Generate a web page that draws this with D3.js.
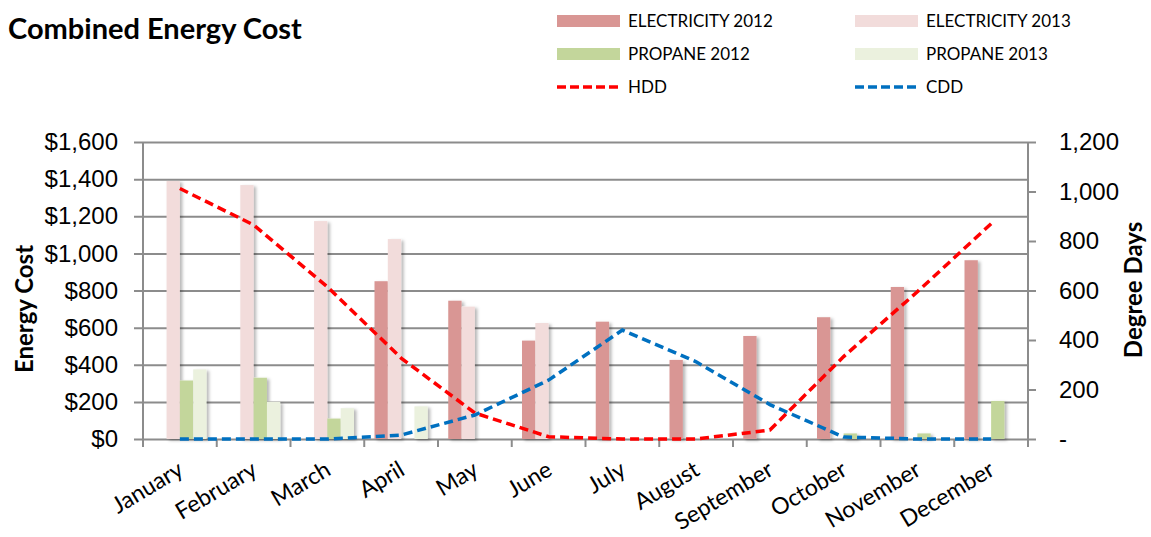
<!DOCTYPE html>
<html>
<head>
<meta charset="utf-8">
<script src="https://cdn.jsdelivr.net/npm/d3@7"></script>
<style>
  html, body { margin: 0; padding: 0; background: #fff; }
  svg { display: block; font-family: Lato, "Open Sans", sans-serif; }
</style>
</head>
<body>
<svg id="chart" width="1151" height="537"></svg>
<script>
// Monthly data
const months = ["January", "February", "March", "April", "May", "June",
  "July", "August", "September", "October", "November", "December"];
const electricity2012 = [null, null, null, 850, 745, 530, 632, 426, 555, 656, 819, 963];
const electricity2013 = [1390, 1368, 1174, 1077, 713, 625, null, null, null, null, null, null];
const propane2012 = [315, 330, 110, null, null, null, null, null, null, 30, 30, 205];
const propane2013 = [375, 200, 166, 176, null, null, null, null, null, null, null, null];
const hdd = [1012, 865, 615, 327, 105, 9, 0, 0, 36, 333, 595, 870];
const cdd = [0, 0, 0, 16, 97, 238, 440, 312, 139, 8, 0, 0];
const costTicks = [0, 200, 400, 600, 800, 1000, 1200, 1400, 1600];
const degreeTicks = [0, 200, 400, 600, 800, 1000, 1200];

const barSeries = [
  { key: "ELECTRICITY 2012", values: electricity2012, color: "#d99694" },
  { key: "ELECTRICITY 2013", values: electricity2013, color: "#f2dcdb" },
  { key: "PROPANE 2012", values: propane2012, color: "#c3d69b" },
  { key: "PROPANE 2013", values: propane2013, color: "#ebf1de" }
];
const lineSeries = [
  { key: "HDD", values: hdd, color: "#ff0000" },
  { key: "CDD", values: cdd, color: "#0070c0" }
];

const svg = d3.select("#chart");
const plotLeft = 143, plotRight = 1028, plotTop = 142, plotBottom = 439;
const gridColor = "#8c8c8c";

const x = d3.scaleBand().domain(months).range([plotLeft, plotRight]).paddingInner(0).paddingOuter(0);
const x1 = d3.scaleBand().domain(barSeries.map(s => s.key))
  .range([0, x.bandwidth()]).paddingInner(0).paddingOuter(0.77);
const y = d3.scaleLinear().domain([0, 1600]).range([plotBottom, plotTop]);
const y2 = d3.scaleLinear().domain([0, 1200]).range([plotBottom, plotTop]);

// soft shadow under bars
const defs = svg.append("defs");
const f = defs.append("filter").attr("id", "shadow")
  .attr("x", "-30%").attr("y", "-10%").attr("width", "180%").attr("height", "130%");
f.append("feDropShadow").attr("dx", 2.5).attr("dy", 1.5).attr("stdDeviation", 1.6)
  .attr("flood-color", "#000").attr("flood-opacity", 0.28);

// title
svg.append("text").attr("x", 8).attr("y", 39)
  .attr("font-size", 29).attr("font-weight", "bold").attr("fill", "#000")
  .text("Combined Energy Cost");

// gridlines + left axis
const gridLen = plotRight - plotLeft + 9;
const leftAxis = d3.axisLeft(y).tickValues(costTicks)
  .tickSize(gridLen).tickPadding(17)
  .tickFormat(d => "$" + d3.format(",")(d));
const gl = svg.append("g").attr("transform", `translate(${plotRight},0)`).call(leftAxis);
gl.select(".domain").remove();
gl.selectAll(".tick line").attr("stroke", gridColor).attr("stroke-width", 2);
gl.selectAll(".tick text").attr("font-size", 24).attr("fill", "#000")
  .attr("x", -gridLen - 16);

// left axis line
svg.append("line").attr("x1", plotLeft).attr("x2", plotLeft).attr("y1", plotTop).attr("y2", plotBottom + 8)
  .attr("stroke", gridColor).attr("stroke-width", 2);

// right axis
const rightAxis = d3.axisRight(y2).tickValues(degreeTicks).tickSize(8).tickPadding(23)
  .tickFormat(d => d === 0 ? "-" : d3.format(",")(d));
const gr = svg.append("g").attr("transform", `translate(${plotRight},0)`).call(rightAxis);
gr.select(".domain").attr("stroke", gridColor).attr("stroke-width", 2)
  .attr("d", `M0,${plotTop}V${plotBottom + 8}`);
gr.selectAll(".tick line").attr("stroke", gridColor).attr("stroke-width", 2);
gr.selectAll(".tick text").attr("font-size", 24).attr("fill", "#000");

// bottom axis ticks at category boundaries
const boundaries = months.map(m => x(m)).concat([plotRight]);
svg.append("g").selectAll("line").data(boundaries).join("line")
  .attr("x1", d => d).attr("x2", d => d).attr("y1", plotBottom).attr("y2", plotBottom + 8)
  .attr("stroke", gridColor).attr("stroke-width", 2);

// month labels
svg.append("g").selectAll("text").data(months).join("text")
  .attr("transform", d => `translate(${x(d) + x.bandwidth() / 2 + 5},${plotBottom + 35}) rotate(-31)`)
  .attr("text-anchor", "end").attr("font-size", 23).attr("fill", "#000")
  .text(d => d);

// axis titles
svg.append("text").attr("transform", "translate(33,309) rotate(-90)")
  .attr("text-anchor", "middle").attr("font-size", 24).attr("font-weight", "bold")
  .text("Energy Cost");
svg.append("text").attr("transform", "translate(1142,290) rotate(-90)")
  .attr("text-anchor", "middle").attr("font-size", 24).attr("font-weight", "bold")
  .text("Degree Days");

// bars
const barData = [];
barSeries.forEach(s => s.values.forEach((v, i) => {
  if (v != null) barData.push({ key: s.key, month: months[i], value: v, color: s.color });
}));
svg.append("g").attr("filter", "url(#shadow)").selectAll("rect").data(barData).join("rect")
  .attr("x", d => x(d.month) + x1(d.key))
  .attr("width", x1.bandwidth())
  .attr("y", d => y(d.value))
  .attr("height", d => y(0) - y(d.value))
  .attr("fill", d => d.color);

// degree-day lines
const line = d3.line().x((d, i) => x(months[i]) + x.bandwidth() / 2).y(d => y2(d));
lineSeries.forEach(s => {
  svg.append("path").datum(s.values)
    .attr("d", line).attr("fill", "none")
    .attr("stroke", s.color).attr("stroke-width", 3.5)
    .attr("stroke-dasharray", "9,5");
});

// legend
const legendItems = [
  { key: barSeries[0].key, color: barSeries[0].color, type: "rect", col: 0, row: 0 },
  { key: barSeries[1].key, color: barSeries[1].color, type: "rect", col: 1, row: 0 },
  { key: barSeries[2].key, color: barSeries[2].color, type: "rect", col: 0, row: 1 },
  { key: barSeries[3].key, color: barSeries[3].color, type: "rect", col: 1, row: 1 },
  { key: lineSeries[0].key, color: lineSeries[0].color, type: "line", col: 0, row: 2 },
  { key: lineSeries[1].key, color: lineSeries[1].color, type: "line", col: 1, row: 2 }
];
const lg = svg.append("g");
legendItems.forEach(it => {
  const gx = 557 + it.col * 298, gy = 21 + it.row * 33;
  if (it.type === "rect") {
    lg.append("rect").attr("x", gx).attr("y", gy - 6).attr("width", 63).attr("height", 12)
      .attr("fill", it.color);
  } else {
    lg.append("line").attr("x1", gx).attr("x2", gx + 63).attr("y1", gy).attr("y2", gy)
      .attr("stroke", it.color).attr("stroke-width", 3.5).attr("stroke-dasharray", "9,4");
  }
  lg.append("text").attr("x", gx + 71).attr("y", gy).attr("dy", "0.36em")
    .attr("font-size", 17).attr("fill", "#000").text(it.key);
});
</script>
</body>
</html>
